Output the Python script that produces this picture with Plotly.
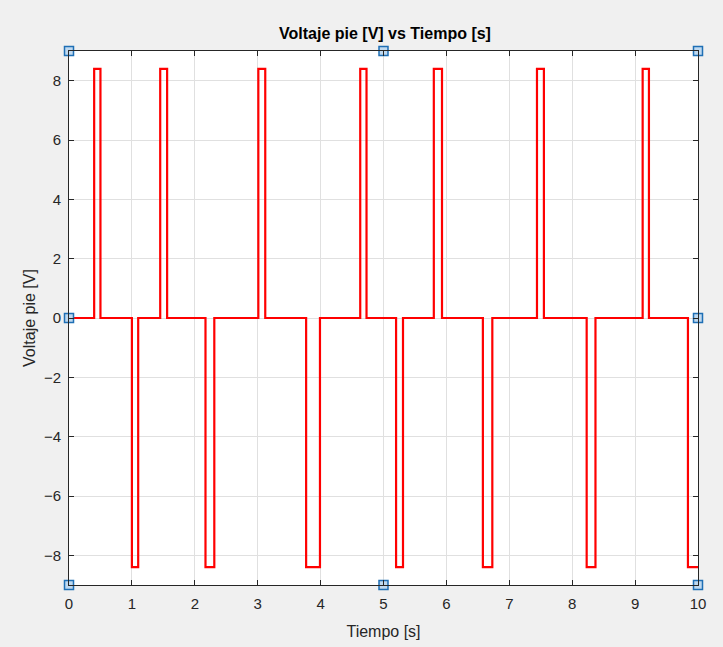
import plotly.graph_objects as go

# Pulse data (start time, end time, level)
pulse_start = [0.40, 1.00, 1.45, 2.17, 3.01, 3.77, 4.63, 5.20, 5.80, 6.58, 7.44, 8.23, 9.12, 9.84]
pulse_end   = [0.50, 1.10, 1.56, 2.31, 3.12, 3.99, 4.73, 5.31, 5.93, 6.73, 7.55, 8.37, 9.22, 10.0]
pulse_level = [8.4, -8.4, 8.4, -8.4, 8.4, -8.4, 8.4, -8.4, 8.4, -8.4, 8.4, -8.4, 8.4, -8.4]
t_start, t_end = 0.0, 10.0
base_level = 0.0

x_ticks = list(range(0, 11))
y_ticks = list(range(-8, 9, 2))

# Build step signal
t = [t_start]
v = [base_level]
for s, e, lv in zip(pulse_start, pulse_end, pulse_level):
    t += [s, s, e, e]
    v += [base_level, lv, lv, base_level]
if t[-1] < t_end:
    t.append(t_end)
    v.append(base_level)
elif v[-1] == base_level and pulse_end[-1] >= t_end:
    t.pop(); v.pop()

handle_x = [0, 5, 10, 0, 10, 0, 5, 10]
handle_y = [9, 9, 9, 0, 0, -9, -9, -9]

FONT = "Liberation Sans, Arial"

fig = go.Figure()
fig.add_trace(go.Scatter(x=t, y=v, mode="lines",
                         line=dict(color="#FF0000", width=2.2),
                         showlegend=False, hoverinfo="skip"))
fig.add_trace(go.Scatter(x=handle_x, y=handle_y, mode="markers",
                         marker=dict(symbol="square", size=9, color="#BFD9F0",
                                     line=dict(color="#1F6FB5", width=1.5)),
                         cliponaxis=False, showlegend=False, hoverinfo="skip"))

axis_common = dict(showline=True, linecolor="#262626", linewidth=1, mirror="ticks",
                   ticks="inside", ticklen=5, tickcolor="#262626",
                   showgrid=True, gridcolor="#E0E0E0", gridwidth=1, zeroline=False,
                   automargin=False,
                   tickfont=dict(family=FONT, size=15, color="#262626"))

fig.update_layout(
    width=723, height=647,
    paper_bgcolor="#F0F0F0", plot_bgcolor="#FFFFFF",
    margin=dict(l=69, r=25, t=51, b=62),
    title=dict(text="<b>Voltaje pie [V] vs Tiempo [s]</b>", x=0.5325, xanchor="center",
               y=1 - 33 / 647, yanchor="middle",
               font=dict(family=FONT, size=16, color="#000000")),
    xaxis=dict(range=[0, 10], tickvals=x_ticks, ticklabelstandoff=5,
               title=dict(text="Tiempo [s]", standoff=14,
                          font=dict(family=FONT, size=16, color="#262626")),
               **axis_common),
    yaxis=dict(range=[-9, 9], tickvals=y_ticks, ticklabelstandoff=4,
               title=dict(text="Voltaje pie [V]", standoff=4,
                          font=dict(family=FONT, size=16, color="#262626")),
               **axis_common),
)

fig.write_html("out.html")
